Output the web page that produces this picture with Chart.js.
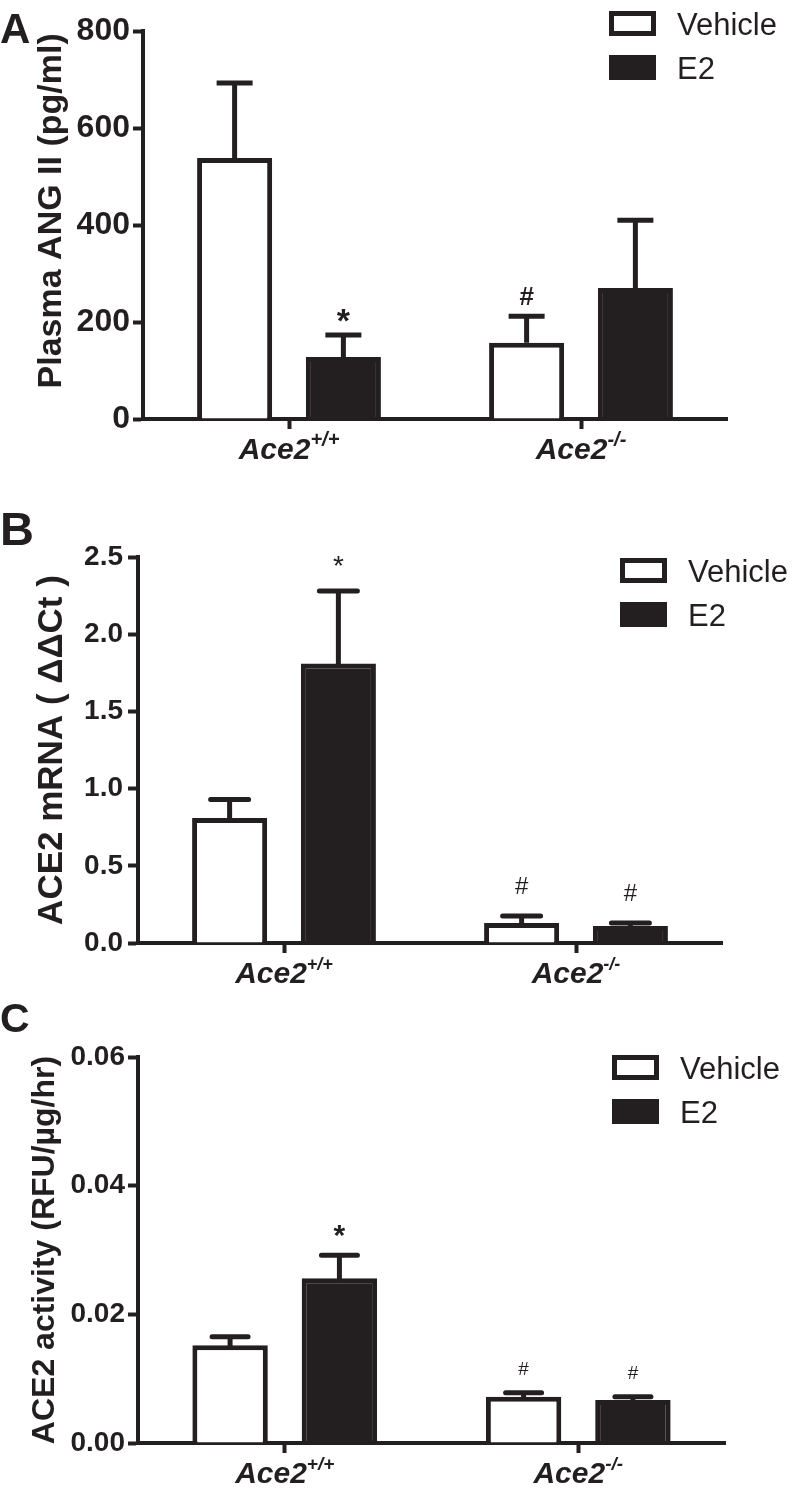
<!DOCTYPE html>
<html>
<head>
<meta charset="utf-8">
<script src="https://cdn.jsdelivr.net/npm/chart.js@4.4.1/dist/chart.umd.min.js"></script>
<style>
  body { margin: 0; background: #fff; }
  .panel { position: absolute; left: 0; }
</style>
</head>
<body>
<canvas id="panelA" class="panel" width="793" height="480" style="top:0px"></canvas>
<canvas id="panelB" class="panel" width="793" height="510" style="top:480px"></canvas>
<canvas id="panelC" class="panel" width="793" height="505" style="top:990px"></canvas>
<script>
// categories
const genes = ['Ace2', 'Ace2'];
const genotypes = ['+/+', '-/-'];
const seriesNames = ['Vehicle', 'E2'];

// A: plasma ANG II (pg/ml), mean and SEM
const angVehicle = [538, 157];
const angVehicleSem = [155, 55];
const angE2 = [128, 270];
const angE2Sem = [45, 140];
const angVehicleMarks = ['', '#'];
const angE2Marks = ['*', ''];

// B: ACE2 mRNA (ddCt)
const mrnaVehicle = [0.81, 0.13];
const mrnaVehicleSem = [0.12, 0.045];
const mrnaE2 = [1.81, 0.11];
const mrnaE2Sem = [0.47, 0.02];
const mrnaVehicleMarks = ['', '#'];
const mrnaE2Marks = ['*', '#'];

// C: ACE2 activity (RFU/ug/hr)
const actVehicle = [0.0152, 0.0072];
const actVehicleSem = [0.0013, 0.0006];
const actE2 = [0.0256, 0.0067];
const actE2Sem = [0.0036, 0.0005];
const actVehicleMarks = ['', '#'];
const actE2Marks = ['*', '#'];

// y axis ticks
const angTicks = { max: 800, step: 200, decimals: 0 };
const mrnaTicks = { max: 2.5, step: 0.5, decimals: 1 };
const actTicks = { max: 0.06, step: 0.02, decimals: 2 };

const ink = '#231f20';
const family = "'Liberation Sans', Arial, Helvetica, sans-serif";

const extras = {
  id: 'extras',
  afterDatasetsDraw(chart, args, o) {
    const ctx = chart.ctx;
    const ys = chart.scales.y;
    ctx.save();
    chart.data.datasets.forEach((ds, di) => {
      chart.getDatasetMeta(di).data.forEach((bar, i) => {
        const top = ys.getPixelForValue(ds.data[i] + ds.sem[i]);
        ctx.strokeStyle = ink;
        ctx.lineWidth = 5;
        ctx.lineCap = o.capStyle;
        ctx.beginPath();
        ctx.moveTo(bar.x, bar.y);
        ctx.lineTo(bar.x, top);
        ctx.moveTo(bar.x - o.capWidth / 2, top);
        ctx.lineTo(bar.x + o.capWidth / 2, top);
        ctx.stroke();
        const m = ds.marks[i];
        if (m) {
          ctx.font = o.markFonts[m];
          ctx.fillStyle = ink;
          ctx.textAlign = 'center';
          ctx.textBaseline = 'alphabetic';
          const mt = ctx.measureText(m);
          const cy = top - o.markGap;
          ctx.fillText(m, bar.x, cy + (mt.actualBoundingBoxAscent - mt.actualBoundingBoxDescent) / 2);
        }
      });
    });
    ctx.restore();
  },
  afterDraw(chart, args, o) {
    const ctx = chart.ctx;
    const xs = chart.scales.x;
    const area = chart.chartArea;
    ctx.save();
    ctx.fillStyle = ink;
    ctx.textBaseline = 'alphabetic';
    ctx.textAlign = 'left';

    // category labels with superscript genotype
    genes.forEach((g, i) => {
      const cx = xs.getPixelForValue(i);
      const mainFont = 'italic bold ' + o.labelSize + 'px ' + family;
      const supFont = 'italic bold ' + o.supSize + 'px ' + family;
      ctx.font = mainFont;
      const w1 = ctx.measureText(g).width;
      ctx.font = supFont;
      const w2 = ctx.measureText(genotypes[i]).width;
      const x0 = cx - (w1 + w2) / 2;
      const base = area.bottom + 40;
      ctx.font = mainFont;
      ctx.fillText(g, x0, base);
      ctx.font = supFont;
      ctx.fillText(genotypes[i], x0 + w1, base - 13);
    });

    // legend
    chart.data.datasets.forEach((ds, di) => {
      const bx = o.legendX, by = o.legendY + di * 44;
      const bw = 47, bh = 25;
      ctx.fillStyle = ds.backgroundColor;
      ctx.fillRect(bx, by, bw, bh);
      ctx.strokeStyle = ink;
      ctx.lineWidth = 5;
      ctx.strokeRect(bx + 2.5, by + 2.5, bw - 5, bh - 5);
      ctx.fillStyle = ink;
      ctx.font = '31px ' + family;
      ctx.fillText(ds.label, bx + bw + 21, by + bh / 2 + 0.716 * 31 / 2);
    });

    // panel letter
    ctx.font = 'bold ' + o.letterSize + 'px ' + family;
    ctx.fillText(o.letter, 0, o.letterBase);
    ctx.restore();
  }
};

function makePanel(id, p) {
  const canvas = document.getElementById(id);
  const H = canvas.height;
  return new Chart(canvas, {
    type: 'bar',
    data: {
      labels: genes,
      datasets: [
        { label: seriesNames[0], data: p.vehicle, sem: p.vehicleSem, marks: p.vehicleMarks,
          backgroundColor: '#ffffff', borderColor: ink, borderWidth: 5 },
        { label: seriesNames[1], data: p.e2, sem: p.e2Sem, marks: p.e2Marks,
          backgroundColor: ink, borderColor: ink, borderWidth: 5 }
      ]
    },
    options: {
      responsive: false,
      animation: false,
      devicePixelRatio: 1,
      layout: { padding: { left: 0, top: p.area.top, right: canvas.width - p.area.right, bottom: 0 } },
      datasets: { bar: { categoryPercentage: 0.745, barPercentage: 0.69 } },
      plugins: {
        legend: { display: false },
        tooltip: { enabled: false },
        extras: p.extras
      },
      scales: {
        x: {
          grid: { drawOnChartArea: false, offset: false, tickLength: 10, tickWidth: 4, tickColor: ink },
          border: { width: 4, color: ink },
          ticks: { display: false },
          afterFit(s) { s.height = H - p.area.bottom; }
        },
        y: {
          min: 0,
          max: p.ticks.max,
          grid: { drawOnChartArea: false, tickLength: 10, tickWidth: 4, tickColor: ink },
          border: { width: 4, color: ink },
          ticks: {
            stepSize: p.ticks.step,
            padding: p.tickPad,
            color: ink,
            font: { family: family, size: p.tickSize, weight: 'bold' },
            callback: v => Number(v).toFixed(p.ticks.decimals)
          },
          title: {
            display: true,
            text: p.title,
            color: ink,
            font: { family: family, size: p.titleSize, weight: 'bold', lineHeight: 1 },
            padding: { top: p.titleCenter - p.titleSize / 2, bottom: 0 }
          },
          afterFit(s) { s.width = p.area.left; }
        }
      }
    },
    plugins: [extras]
  });
}

makePanel('panelA', {
  vehicle: angVehicle, vehicleSem: angVehicleSem, vehicleMarks: angVehicleMarks,
  e2: angE2, e2Sem: angE2Sem, e2Marks: angE2Marks,
  ticks: angTicks,
  area: { left: 143, right: 727, top: 31, bottom: 419 },
  tickSize: 32, tickPad: 3,
  title: '   Plasma ANG II (pg/ml)', titleSize: 34, titleCenter: 51.5,
  extras: {
    capWidth: 36, capStyle: 'butt', markGap: 20,
    markFonts: { '*': 'bold 34px ' + family, '#': 'bold 26px ' + family },
    labelSize: 30, supSize: 20,
    legendX: 609, legendY: 11,
    letter: 'A', letterSize: 42, letterBase: 43
  }
});

makePanel('panelB', {
  vehicle: mrnaVehicle, vehicleSem: mrnaVehicleSem, vehicleMarks: mrnaVehicleMarks,
  e2: mrnaE2, e2Sem: mrnaE2Sem, e2Marks: mrnaE2Marks,
  ticks: mrnaTicks,
  area: { left: 138, right: 722, top: 77, bottom: 463 },
  tickSize: 28, tickPad: 5,
  title: 'ACE2 mRNA ( ΔΔCt )', titleSize: 35, titleCenter: 52.5,
  extras: {
    capWidth: 38, capStyle: 'round', markGap: 30,
    markFonts: { '*': '28px ' + family, '#': '24px ' + family },
    labelSize: 30, supSize: 18,
    legendX: 620, legendY: 78,
    letter: 'B', letterSize: 47, letterBase: 65
  }
});

makePanel('panelC', {
  vehicle: actVehicle, vehicleSem: actVehicleSem, vehicleMarks: actVehicleMarks,
  e2: actE2, e2Sem: actE2Sem, e2Marks: actE2Marks,
  ticks: actTicks,
  area: { left: 138, right: 725, top: 67, bottom: 453 },
  tickSize: 28, tickPad: 3,
  title: 'ACE2 activity (RFU/µg/hr)', titleSize: 32, titleCenter: 45.5,
  extras: {
    capWidth: 36, capStyle: 'round', markGap: 24,
    markFonts: { '*': 'bold 30px ' + family, '#': '19px ' + family },
    labelSize: 30, supSize: 19,
    legendX: 612, legendY: 65,
    letter: 'C', letterSize: 41, letterBase: 42
  }
});
</script>
</body>
</html>
